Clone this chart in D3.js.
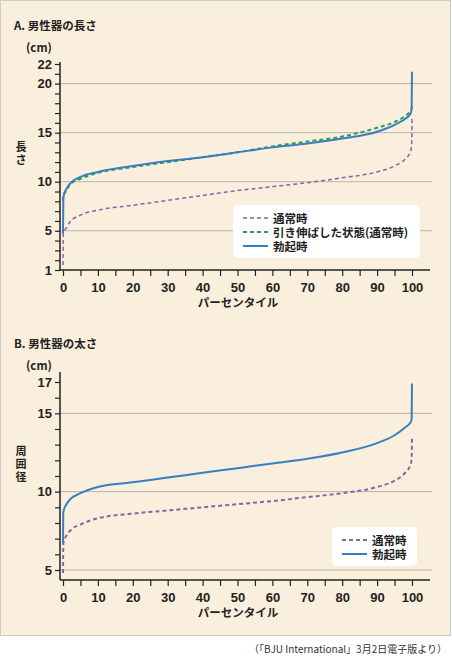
<!DOCTYPE html><html><head><meta charset="utf-8"><script src="https://cdn.jsdelivr.net/npm/d3@7"></script>
<style>body{margin:0;background:#fff}svg{font-family:"Noto Sans CJK JP",sans-serif}</style></head><body><svg id="c" width="452" height="657"></svg>
<script>
const pct=[0,0.1,1,2,5,10,20,30,40,50,60,70,80,90,95,98,99.5,99.9,100];
const lenFlaccid=[1.5,4.8,5.3,5.9,6.6,7.1,7.6,8.1,8.6,9.1,9.5,9.9,10.4,11.0,11.6,12.3,13.0,13.7,16.5];
const lenStretched=[8.0,8.5,9.1,9.7,10.3,10.9,11.5,12.0,12.5,13.0,13.6,14.1,14.6,15.5,16.1,16.7,17.2,17.5,17.8];
const lenErect=[4.7,8.4,9.3,9.8,10.5,11.0,11.6,12.1,12.5,13.0,13.5,13.9,14.4,15.1,15.8,16.4,16.9,17.4,21.2];
const girFlaccid=[4.8,6.7,7.2,7.5,7.9,8.3,8.6,8.8,9.0,9.2,9.4,9.65,9.9,10.3,10.7,11.2,11.7,12.1,13.5];
const girErect=[6.7,8.7,9.2,9.5,9.9,10.3,10.6,10.9,11.2,11.5,11.8,12.1,12.5,13.1,13.6,14.1,14.4,14.6,16.9];
const xTicks=[0,10,20,30,40,50,60,70,80,90,100];
const lenTicks=[1,5,10,15,20,22], lenGrid=[5,10,15,20];
const girTicks=[5,10,15,17], girGrid=[5,10,15];
const C={purple:"#8a63a6",green:"#2e9a5a",blue:"#3a7ebf"};
const svg=d3.select("#c");
svg.append("rect").attr("x",0.5).attr("y",0.5).attr("width",450).attr("height",635).attr("fill","#faefdc").attr("stroke","#ccc");
svg.append("text").attr("x",447).attr("y",653).attr("text-anchor","end").attr("font-size",10).attr("fill","#333").text("（「BJU International」3月2日電子版より）");
const x=d3.scaleLinear().domain([0,100]).range([63,412]);
function panel(o){
  const y=d3.scaleLinear().domain(o.dom).range(o.rng);
  const g=svg.append("g");
  g.append("text").attr("x",14).attr("y",o.titleY).attr("font-size",11.5).attr("font-weight","bold").attr("fill","#222").text(o.title);
  g.append("text").attr("x",26).attr("y",o.cmY).attr("font-size",11.5).attr("font-weight","bold").attr("fill","#222").text("(cm)");
  o.grid.forEach(v=>g.append("line").attr("x1",60).attr("x2",432).attr("y1",y(v)).attr("y2",y(v)).attr("stroke","#b8b3ab").attr("stroke-width",1));
  const ya=d3.axisLeft(y).tickValues(d3.range(Math.ceil(o.dom[0]),o.top+1)).tickSize(5).tickFormat(d=>o.ticks.includes(d)?d:"");
  const ag=g.append("g").attr("transform","translate(60,0)").call(ya);
  ag.select(".domain").attr("d",`M0,${o.rng[0]}V${o.axTop}`).attr("stroke","#222").attr("stroke-width",1.5);
  ag.selectAll("text").attr("font-size",13).attr("font-weight","bold").attr("fill","#222");
  ag.selectAll("line").attr("stroke","#222").attr("stroke-width",1.2);
  const xa=d3.axisBottom(x).tickValues(d3.range(0,101,5)).tickSize(6).tickFormat(d=>xTicks.includes(d)?d:"");
  const xg=g.append("g").attr("transform",`translate(0,${o.rng[0]})`).call(xa);
  xg.select(".domain").attr("d","M60,0H430").attr("stroke","#222").attr("stroke-width",1.5);
  xg.selectAll("line").attr("stroke","#222").attr("stroke-width",1.2);
  xg.selectAll("text").attr("font-size",13).attr("font-weight","bold").attr("fill","#222").attr("dy","1.0em");
  g.append("text").attr("x",238).attr("y",o.rng[0]+37).attr("text-anchor","middle").attr("font-size",11.5).attr("font-weight","bold").attr("fill","#222").text("パーセンタイル");
  o.ylab.split("").forEach((ch,i)=>g.append("text").attr("x",21).attr("y",o.ylabY+i*13).attr("text-anchor","middle").attr("font-size",11).attr("font-weight","bold").attr("fill","#222").text(ch));
  const line=d3.line().x((d,i)=>x(pct[i])).y(d=>y(d)).curve(d3.curveMonotoneX);
  o.series.forEach(s=>g.append("path").attr("d",line(s.v)).attr("fill","none").attr("stroke",s.c).attr("stroke-width",s.w).attr("stroke-dasharray",s.dash||null));
  const L=o.leg;
  g.append("rect").attr("x",L.x).attr("y",L.y).attr("width",L.w).attr("height",L.h).attr("rx",5).attr("fill","#fff");
  L.items.forEach((s,i)=>{const yy=L.y+13+i*14;
    g.append("line").attr("x1",L.x+10).attr("x2",L.x+35).attr("y1",yy).attr("y2",yy).attr("stroke",s.c).attr("stroke-width",s.w).attr("stroke-dasharray",s.dash||null);
    g.append("text").attr("x",L.x+40).attr("y",yy+4.5).attr("font-size",11.5).attr("font-weight","bold").attr("fill","#222").text(s.n);});
}
const sFl={n:"通常時",v:lenFlaccid,c:C.purple,w:1.5,dash:"4,3"};
const sSt={n:"引き伸ばした状態(通常時)",v:lenStretched,c:C.green,w:2,dash:"4,3"};
const sEr={n:"勃起時",v:lenErect,c:C.blue,w:2};
panel({title:"A. 男性器の長さ",titleY:30,cmY:52,dom:[1,22],rng:[270,64],axTop:62,top:22,ticks:lenTicks,grid:lenGrid,ylab:"長さ",ylabY:151,
 series:[sFl,sSt,sEr],leg:{x:233,y:205,w:187,h:53,items:[sFl,sSt,sEr]}});
const gFl={n:"通常時",v:girFlaccid,c:C.purple,w:2,dash:"4,3"};
const gEr={n:"勃起時",v:girErect,c:C.blue,w:2};
panel({title:"B. 男性器の太さ",titleY:348,cmY:370,dom:[4.36,17],rng:[580,382],axTop:372,top:17,ticks:girTicks,grid:girGrid,ylab:"周囲径",ylabY:455,
 series:[gFl,gEr],leg:{x:332,y:527,w:85,h:39,items:[gFl,gEr]}});
</script></body></html>
